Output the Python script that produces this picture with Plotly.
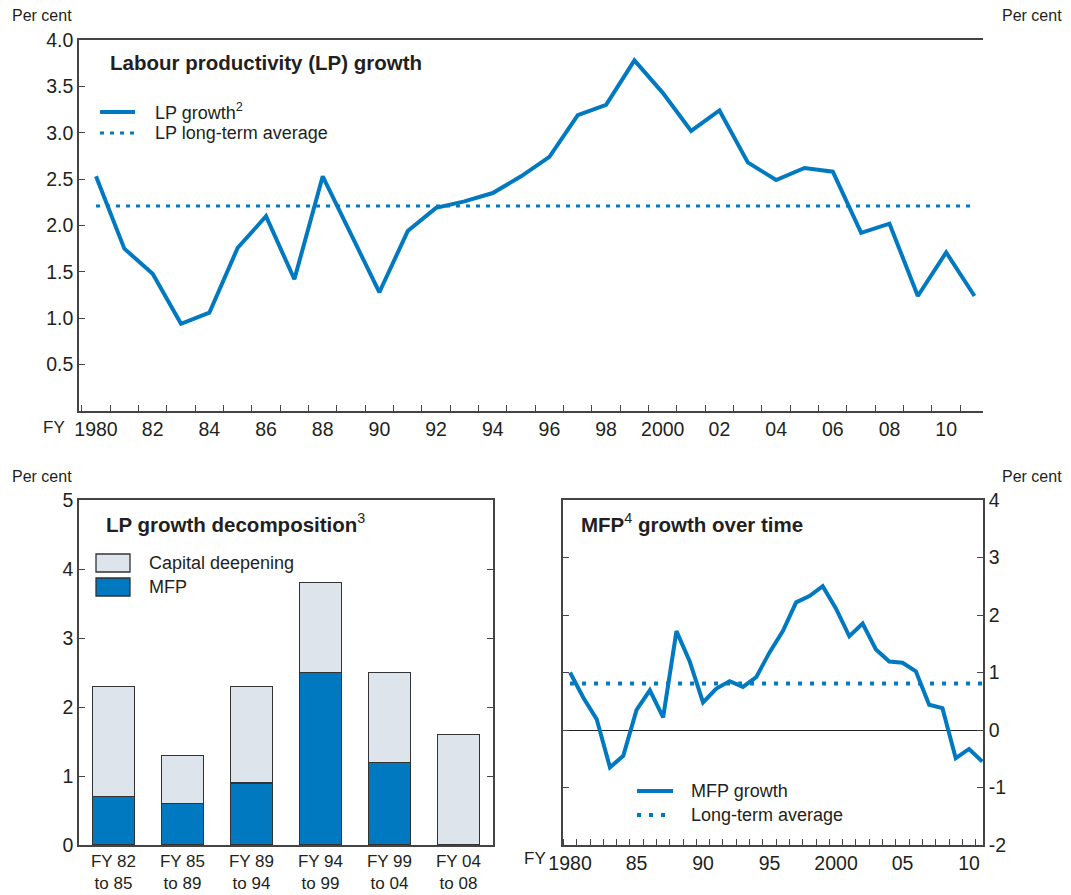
import plotly.graph_objects as go

# ---------------- data ----------------
years = list(range(1980, 2012))
lp_growth = [2.53, 1.75, 1.48, 0.94, 1.06, 1.76, 2.10, 1.42, 2.53, 1.91,
             1.28, 1.94, 2.19, 2.26, 2.35, 2.53, 2.74, 3.19, 3.30, 3.78,
             3.43, 3.02, 3.24, 2.68, 2.49, 2.62, 2.58, 1.92, 2.02, 1.24,
             1.71, 1.24]
lp_long_term_avg = 2.21

mfp_growth = [1.00, 0.56, 0.19, -0.65, -0.45, 0.35, 0.69, 0.22, 1.72, 1.19,
              0.48, 0.72, 0.85, 0.75, 0.92, 1.35, 1.72, 2.22, 2.33, 2.50,
              2.11, 1.63, 1.85, 1.40, 1.19, 1.17, 1.02, 0.44, 0.38, -0.49,
              -0.33, -0.55]
mfp_long_term_avg = 0.81

periods = ["FY 82<br>to 85", "FY 85<br>to 89", "FY 89<br>to 94",
           "FY 94<br>to 99", "FY 99<br>to 04", "FY 04<br>to 08"]
mfp_contrib = [0.7, 0.6, 0.9, 2.5, 1.2, 0.0]
capital_deepening = [1.6, 0.7, 1.4, 1.3, 1.3, 1.6]

top_tickvals = list(range(1980, 2011, 2))
top_ticktext = ["1980", "82", "84", "86", "88", "90", "92", "94", "96", "98",
                "2000", "02", "04", "06", "08", "10"]
mfp_tickvals = [1980, 1985, 1990, 1995, 2000, 2005, 2010]
mfp_ticktext = ["1980", "85", "90", "95", "2000", "05", "10"]
mfp_ytickvals = [-2, -1, 0, 1, 2, 3, 4]
mfp_yticktext = ["-2", "-1", "0", "1", "2", "3", "4"]

# ---------------- style ----------------
W, H = 1071, 895
BLUE = "#0079c1"
LIGHT = "#dde4ec"
TXT = "#231f20"
AX = "#444444"
FONT = "Liberation Sans, Arial, sans-serif"
TICKFS = 19.5
LEGFS = 18
TITLEFS = 20.5


def px(x):
    return x / W


def py(y):
    return 1 - y / H


fig = go.Figure()

# top panel
fig.add_trace(go.Scatter(x=years, y=lp_growth, mode="lines", name="LP growth",
                         line=dict(color=BLUE, width=4), xaxis="x", yaxis="y", showlegend=False))
fig.add_trace(go.Scatter(x=[years[0], years[-1]], y=[lp_long_term_avg] * 2, mode="lines",
                         name="LP long-term average",
                         line=dict(color=BLUE, width=3, dash="4px,6px"), xaxis="x", yaxis="y",
                         showlegend=False))

# bottom-left bars
fig.add_trace(go.Bar(x=periods, y=mfp_contrib, name="MFP", marker=dict(color=BLUE, line=dict(color="#333333", width=1.3)),
                     width=0.6, xaxis="x2", yaxis="y3", showlegend=False))
fig.add_trace(go.Bar(x=periods, y=capital_deepening, name="Capital deepening",
                     marker=dict(color=LIGHT, line=dict(color="#333333", width=1.3)),
                     width=0.6, xaxis="x2", yaxis="y3", showlegend=False))

# bottom-right MFP
fig.add_trace(go.Scatter(x=years, y=mfp_growth, mode="lines", name="MFP growth",
                         line=dict(color=BLUE, width=4), xaxis="x3", yaxis="y4", showlegend=False))
fig.add_trace(go.Scatter(x=[years[0], years[-1]], y=[mfp_long_term_avg] * 2, mode="lines",
                         name="Long-term average",
                         line=dict(color=BLUE, width=4, dash="4px,8px"), xaxis="x3", yaxis="y4",
                         showlegend=False))

tickfont = dict(family=FONT, size=TICKFS, color=TXT)
common_x = dict(showline=True, linecolor=AX, linewidth=1.5, mirror=True, showgrid=False,
                zeroline=False, tickfont=tickfont)

fig.update_layout(
    width=W, height=H,
    margin=dict(l=0, r=0, t=0, b=0, autoexpand=False),
    paper_bgcolor="white", plot_bgcolor="white",
    font=dict(family=FONT, color=TXT),
    barmode="stack",
    showlegend=False,
    xaxis=dict(domain=[px(79), px(983)], anchor="y", range=[1979.4, 2011.3],
               tickmode="array", tickvals=top_tickvals, ticktext=top_ticktext, ticks="",
               minor=dict(ticks="inside", tick0=1979.5, dtick=1, ticklen=6, tickcolor=AX, tickwidth=1.2),
               **common_x),
    yaxis=dict(domain=[py(411), py(40)], anchor="x", range=[0, 4],
               tickmode="array", tickvals=[0.5, 1, 1.5, 2, 2.5, 3, 3.5, 4],
               ticktext=["0.5", "1.0", "1.5", "2.0", "2.5", "3.0", "3.5", "4.0"],
               ticks="inside", ticklen=6, tickcolor=AX, showline=True, linecolor=AX, linewidth=1.5,
               showgrid=False, zeroline=False, tickfont=tickfont),
    yaxis2=dict(overlaying="y", side="right", anchor="x", range=[0, 4],
                tickmode="array", tickvals=[0, 0.5, 1, 1.5, 2, 2.5, 3, 3.5, 4],
                ticktext=["0.0", "0.5", "1.0", "1.5", "2.0", "2.5", "3.0", "3.5", "4.0"],
                ticks="inside", ticklen=6, tickcolor=AX, showline=True, linecolor=AX, linewidth=1.5,
                showgrid=False, zeroline=False, tickfont=tickfont),
    xaxis2=dict(domain=[px(79), px(493)], anchor="y3", ticks="",
                tickfont=dict(family=FONT, size=17, color=TXT), showline=True, linecolor=AX,
                linewidth=1.5, mirror=True, showgrid=False, zeroline=False),
    yaxis3=dict(domain=[py(845), py(500)], anchor="x2", range=[0, 5], tickmode="array",
                tickvals=[0, 1, 2, 3, 4, 5], ticks="inside", ticklen=6, tickcolor=AX,
                showline=True, linecolor=AX, linewidth=1.5, mirror="ticks", showgrid=False,
                zeroline=False, tickfont=tickfont),
    xaxis3=dict(domain=[px(563), px(983)], anchor="y4", range=[1979.47, 2011.05],
                tickmode="array", tickvals=mfp_tickvals, ticktext=mfp_ticktext, ticks="",
                minor=dict(ticks="inside", tick0=1979.5, dtick=1, ticklen=6, tickcolor=AX, tickwidth=1.2),
                **common_x),
    yaxis4=dict(domain=[py(845), py(500)], anchor="x3", side="right", range=[-2, 4],
                tickmode="array", tickvals=mfp_ytickvals, ticktext=mfp_yticktext, ticks="inside", ticklen=6,
                tickcolor=AX, showline=True, linecolor=AX, linewidth=1.5, mirror="ticks",
                showgrid=False, zeroline=True, zerolinecolor="#222222", zerolinewidth=1,
                tickfont=tickfont),
)

ann = []
shapes = []


def text(x, y, s, size=17, xanchor="left"):
    ann.append(dict(x=px(x), y=py(y), xref="paper", yref="paper", text=s, showarrow=False,
                    xanchor=xanchor, yanchor="middle", font=dict(family=FONT, size=size, color=TXT)))


def legend_line(x0, x1, y, dash, width):
    shapes.append(dict(type="line", xref="paper", yref="paper", x0=px(x0), x1=px(x1), y0=py(y), y1=py(y),
                       line=dict(color=BLUE, width=width, dash=dash)))


text(10, 15, "Per cent", 16)
text(1064, 15, "Per cent", 16, xanchor="right")
text(10, 476, "Per cent", 16)
text(1064, 476, "Per cent", 16, xanchor="right")
text(67, 428, "FY", 17, xanchor="right")
text(548, 858, "FY", 17, xanchor="right")
text(108, 62, "<b>Labour productivity (LP) growth</b>", TITLEFS)
text(104, 523, "<b>LP growth decomposition</b><sup>3</sup>", TITLEFS)
text(579, 523, "<b>MFP</b><sup>4</sup><b> growth over time</b>", TITLEFS)

# top legend
legend_line(100, 135, 112, "solid", 4)
legend_line(100, 135, 133, "4px,6px", 3)
text(153, 111, "LP growth<sup>2</sup>", LEGFS)
text(153, 133, "LP long-term average", LEGFS)

# bottom-right legend
legend_line(637, 673, 791, "solid", 4)
legend_line(637, 673, 815, "4px,8px", 4)
text(689, 791, "MFP growth", LEGFS)
text(689, 815, "Long-term average", LEGFS)

# bar legend
for (y0, y1, col, label) in [(554, 572, LIGHT, "Capital deepening"), (578, 596, BLUE, "MFP")]:
    shapes.append(dict(type="rect", xref="paper", yref="paper", x0=px(96), x1=px(130), y0=py(y1), y1=py(y0),
                       fillcolor=col, line=dict(color="#333333", width=1.3)))
    text(147, (y0 + y1) / 2, label, LEGFS)

fig.update_layout(annotations=ann, shapes=shapes)

fig.write_html("out.html", config={"displayModeBar": False},
               post_script="document.body.style.margin='0';document.body.style.padding='0';")
